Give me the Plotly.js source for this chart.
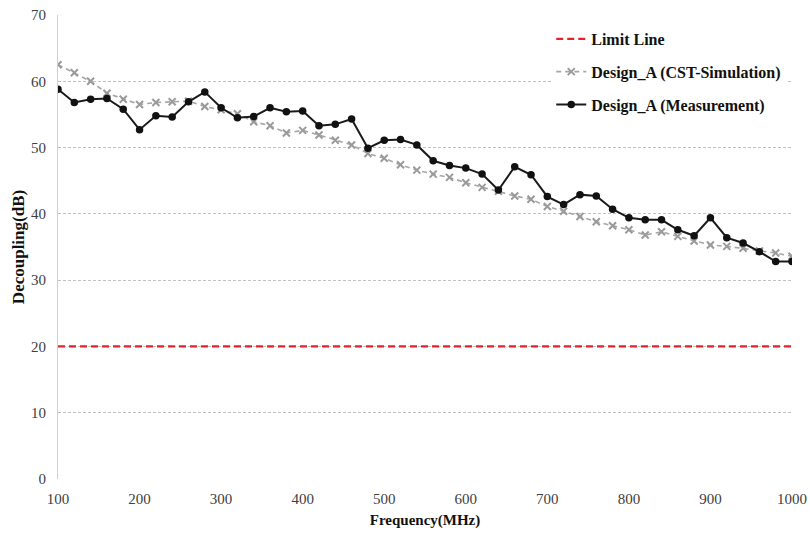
<!DOCTYPE html>
<html>
<head>
<meta charset="utf-8">
<script src="https://cdn.plot.ly/plotly-3.0.1.min.js"></script>
<style>
  html, body { margin: 0; padding: 0; background: #fff; }
  #chart { width: 810px; height: 539px; }
</style>
</head>
<body>
<div id="chart"></div>
<script>
// Frequency sweep, 100 MHz to 1000 MHz in 20 MHz steps
const freqMHz = [100,120,140,160,180,200,220,240,260,280,300,320,340,360,380,400,420,440,460,480,
                 500,520,540,560,580,600,620,640,660,680,700,720,740,760,780,800,820,840,860,880,
                 900,920,940,960,980,1000];

// Decoupling (dB), CST simulation
const simulationDb = [62.5,61.3,60.0,58.2,57.3,56.5,56.8,56.9,57.0,56.2,55.7,55.1,53.9,53.3,52.2,52.6,51.9,51.1,50.4,49.1,
                      48.4,47.4,46.6,46.0,45.5,44.7,44.0,43.4,42.7,42.2,41.1,40.4,39.6,38.8,38.2,37.6,36.8,37.3,36.6,35.9,
                      35.3,35.1,34.8,34.4,34.1,33.6];

// Decoupling (dB), measured
const measurementDb = [58.8,56.8,57.3,57.4,55.8,52.7,54.8,54.6,56.9,58.4,56.0,54.5,54.7,56.0,55.4,55.5,53.3,53.5,54.3,49.9,
                       51.1,51.2,50.4,48.0,47.3,46.9,46.0,43.6,47.1,45.9,42.6,41.4,42.9,42.7,40.7,39.4,39.1,39.1,37.6,36.7,
                       39.4,36.4,35.6,34.3,32.8,32.8];

// Required decoupling limit
const limitX = [100, 1000];
const limitDb = [20, 20];

const serif = 'Liberation Serif, Times New Roman, serif';

const traces = [
  {
    x: limitX, y: limitDb, mode: 'lines', name: '<b>Limit Line</b>',
    legendgroup: 'a',
    line: { color: '#e8202a', width: 2.2, dash: '7px,4px' }
  },
  {
    x: freqMHz, y: simulationDb, mode: 'lines+markers', name: '<b>Design_A (CST-Simulation)</b>',
    legendgroup: 'b',
    line: { color: '#a6a6a6', width: 1.6, dash: '5px,4px' },
    marker: { symbol: 'x-thin', size: 7, line: { color: '#9a9a9a', width: 2 }, color: '#9a9a9a' }
  },
  {
    x: freqMHz, y: measurementDb, mode: 'lines+markers', name: '<b>Design_A (Measurement)</b>',
    legendgroup: 'c',
    line: { color: '#1a1a1a', width: 2 },
    marker: { symbol: 'circle', size: 7.5, color: '#111' }
  }
];

const layout = {
  width: 810, height: 539,
  margin: { l: 58, r: 18, t: 15, b: 60 },
  paper_bgcolor: '#fff', plot_bgcolor: '#fff',
  font: { family: serif, color: '#404040', size: 15 },
  showlegend: true,
  legend: {
    x: 0.672, y: 0.985, xanchor: 'left', yanchor: 'top',
    bgcolor: '#fff', borderwidth: 0,
    traceorder: 'grouped', tracegroupgap: 9,
    font: { family: serif, size: 16, color: '#111' }
  },
  xaxis: {
    range: [100, 1000], dtick: 100, tick0: 100,
    showgrid: false, zeroline: false, showline: false,
    ticks: 'outside', ticklen: 6, tickcolor: 'rgba(0,0,0,0)',
    tickfont: { family: serif, size: 15, color: '#404040' },
    title: { text: '<b>Frequency(MHz)</b>', font: { family: serif, size: 15, color: '#111' }, standoff: 8 }
  },
  yaxis: {
    range: [0, 70], dtick: 10,
    showgrid: true, gridcolor: '#c0c0c0', griddash: '3px,2px', gridwidth: 1,
    zeroline: false, showline: true, linecolor: '#d0d0d0', linewidth: 1,
    ticks: 'outside', ticklen: 8, tickcolor: 'rgba(0,0,0,0)',
    tickfont: { family: serif, size: 15, color: '#404040' },
    title: { text: '<b>Decoupling(dB)</b>', font: { family: serif, size: 17, color: '#111' }, standoff: 2 }
  }
};

Plotly.newPlot('chart', traces, layout, { displayModeBar: false, staticPlot: true });
</script>
</body>
</html>
